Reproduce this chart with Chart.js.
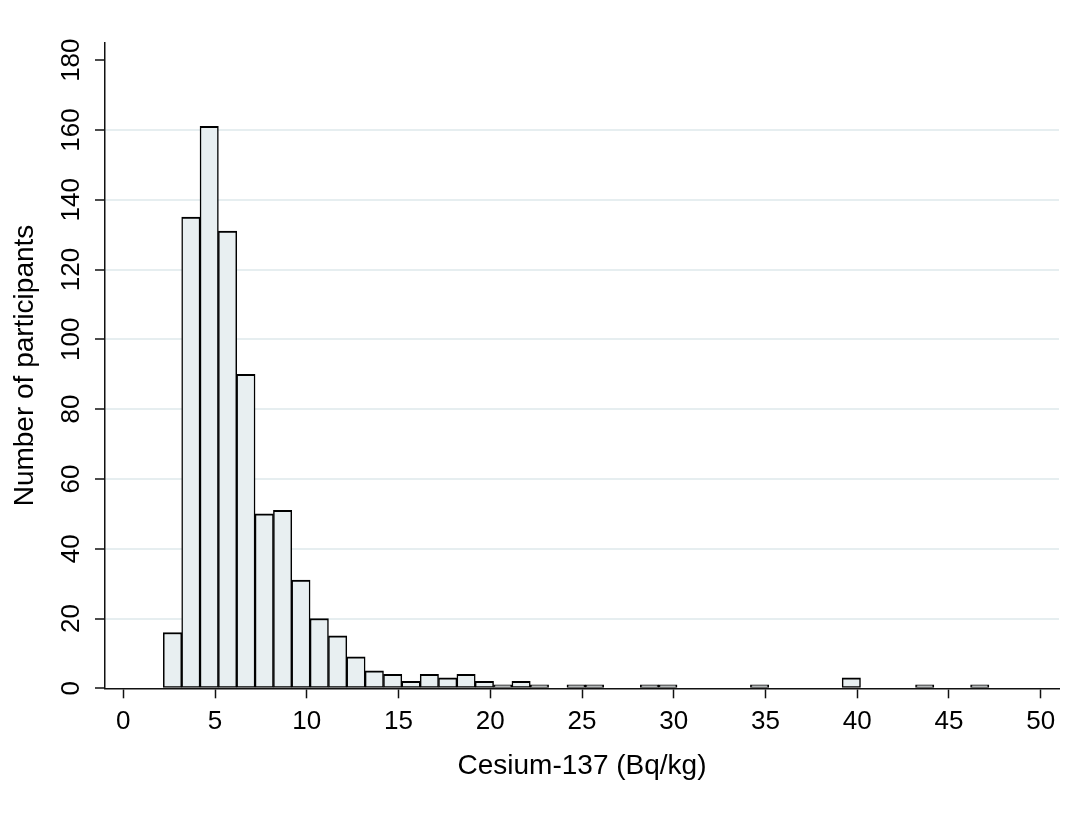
<!DOCTYPE html>
<html lang="en">
<head>
    <meta charset="UTF-8">
    <title>Cesium-137 histogram</title>
    <script src="https://cdn.jsdelivr.net/npm/chart.js"></script>
    <style>
        html, body { margin: 0; padding: 0; background: #fff; }
        #wrap { width: 1078px; height: 831px; }
    </style>
</head>
<body>
<div id="wrap"><canvas id="myChart" width="1078" height="831"></canvas></div>
<script>
    // histogram bins: lower edge of first bin and bin width (Bq/kg)
    const binStart = 2.18;
    const binWidth = 1.0;
    // number of participants per bin
    const counts = [16, 135, 161, 131, 90, 50, 51, 31, 20, 15,
                    9, 5, 4, 2, 4, 3, 4, 2, 1, 2,
                    1, 0, 1, 1, 0, 0, 1, 1, 0, 0,
                    0, 0, 1, 0, 0, 0, 0, 3, 0, 0,
                    0, 1, 0, 0, 1];
    const xTicks = [0, 5, 10, 15, 20, 25, 30, 35, 40, 45, 50];
    const yTicks = [0, 20, 40, 60, 80, 100, 120, 140, 160, 180];

    const fontFamily = '"Liberation Sans", Arial, Helvetica, sans-serif';
    const gridColor = '#e6eef0';

    const points = counts.map((c, i) => ({ x: binStart + binWidth * (i + 0.5), y: c }));

    const ctx = document.getElementById('myChart').getContext('2d');
    new Chart(ctx, {
        type: 'bar',
        data: {
            datasets: [{
                label: 'Participants',
                data: points,
                backgroundColor: '#e8eff1',
                borderColor: '#000',
                borderWidth: { top: 2, left: 1.5, right: 1.5, bottom: 1.5 },
                borderSkipped: false,
                barPercentage: 1,
                categoryPercentage: 1
            }]
        },
        options: {
            responsive: false,
            animation: false,
            devicePixelRatio: 1,
            layout: { padding: { top: 42.7, right: 19, left: 0, bottom: 0 } },
            plugins: {
                legend: { display: false },
                tooltip: { enabled: false }
            },
            scales: {
                x: {
                    type: 'linear',
                    min: -1,
                    max: 51,
                    offset: false,
                    afterBuildTicks: (scale) => { scale.ticks = xTicks.map(v => ({ value: v })); },
                    afterFit: (scale) => { scale.height = 831 - 688.3; },
                    grid: {
                        offset: false,
                        drawOnChartArea: false,
                        drawTicks: true,
                        tickLength: 10,
                        tickColor: '#111',
                        tickWidth: 1.5
                    },
                    border: { display: true, color: '#111', width: 1.5 },
                    ticks: {
                        autoSkip: false,
                        maxRotation: 0,
                        padding: 8,
                        color: '#000',
                        font: { family: fontFamily, size: 26 }
                    },
                    title: {
                        display: true,
                        text: 'Cesium-137 (Bq/kg)',
                        color: '#000',
                        font: { family: fontFamily, size: 28 },
                        padding: { top: 0, bottom: 48 }
                    }
                },
                y: {
                    min: 0,
                    max: 185,
                    afterBuildTicks: (scale) => { scale.ticks = yTicks.map(v => ({ value: v })); },
                    afterFit: (scale) => { scale.width = 105; },
                    grid: {
                        color: (c) => (c.tick && (c.tick.value === 0 || c.tick.value === 180)) ? 'rgba(0,0,0,0)' : gridColor,
                        lineWidth: 2,
                        drawTicks: true,
                        tickLength: 10,
                        tickColor: '#111',
                        tickWidth: 1.5
                    },
                    border: { display: true, color: '#111', width: 1.5 },
                    ticks: {
                        autoSkip: false,
                        minRotation: 90,
                        maxRotation: 90,
                        crossAlign: 'center',
                        padding: 1,
                        color: '#000',
                        font: { family: fontFamily, size: 26 }
                    },
                    title: {
                        display: true,
                        text: 'Number of participants',
                        color: '#000',
                        font: { family: fontFamily, size: 28 },
                        padding: { top: 8, bottom: 0 }
                    }
                }
            }
        }
    });
</script>
</body>
</html>
